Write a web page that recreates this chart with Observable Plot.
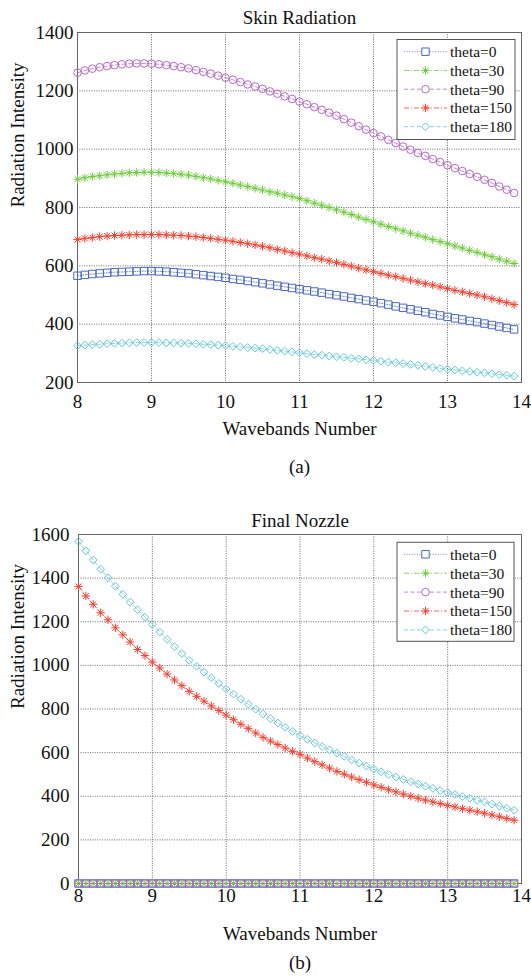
<!DOCTYPE html>
<html><head><meta charset="utf-8">
<script src="https://cdn.jsdelivr.net/npm/d3@7"></script>
<script src="https://cdn.jsdelivr.net/npm/@observablehq/plot@0.6"></script>
<style>
body{margin:0;background:#fff;width:531px;height:976px;overflow:hidden}
#c1,#c2{display:block;line-height:0}
</style>
</head><body><div id="c1"></div><div id="c2"></div>
<script>
// ---------- data ----------
const wavebands = [8.0,8.1,8.2,8.3,8.4,8.5,8.6,8.7,8.8,8.9,9.0,9.1,9.2,9.3,9.4,9.5,9.6,9.7,9.8,9.9,
  10.0,10.1,10.2,10.3,10.4,10.5,10.6,10.7,10.8,10.9,11.0,11.1,11.2,11.3,11.4,11.5,11.6,11.7,11.8,11.9,
  12.0,12.1,12.2,12.3,12.4,12.5,12.6,12.7,12.8,12.9,13.0,13.1,13.2,13.3,13.4,13.5,13.6,13.7,13.8,13.9];
const xTicks = [8,9,10,11,12,13,14];
const yTicksSkin = [200,400,600,800,1000,1200,1400];
const yTicksNozzle = [0,200,400,600,800,1000,1200,1400,1600];
const seriesNames = ["theta=0","theta=30","theta=90","theta=150","theta=180"];

// Skin Radiation
const skin0 = [566,569,572,574,576,578,579,580,581,582,582,581,580,578,576,574,571,568,565,562,
  559,555,552,548,544,540,536,532,528,524,520,516,512,508,503,499,495,490,486,481,
  477,472,467,461,456,451,446,441,435,430,425,420,416,411,407,402,397,392,387,382];
const skin30 = [897,902,906,909,912,915,917,919,920,921,921,920,918,916,914,911,907,902,898,893,
  888,883,877,872,866,860,854,849,843,837,831,823,815,808,800,792,784,776,767,759,
  751,743,735,727,720,712,705,698,690,683,676,668,661,653,646,638,631,623,616,608];
const skin90 = [1262,1270,1276,1281,1285,1288,1291,1293,1294,1294,1293,1291,1288,1285,1281,1277,1271,1265,1259,1252,
  1245,1238,1230,1222,1215,1207,1198,1190,1181,1172,1163,1154,1144,1135,1125,1115,1103,1091,1079,1067,
  1055,1044,1032,1021,1009,998,987,977,966,956,945,935,925,915,905,895,884,872,861,850];
const skin150 = [690,694,697,700,702,704,705,706,707,707,707,707,706,705,704,702,700,697,694,691,
  688,684,680,676,672,667,662,656,651,645,640,634,628,623,617,611,605,599,592,586,
  580,574,568,563,557,551,545,539,534,528,522,516,511,505,500,494,487,481,474,467];
const skin180 = [326,328,330,331,333,334,335,336,337,337,337,337,336,336,335,334,333,331,330,328,
  326,324,322,320,318,316,313,310,308,305,302,299,296,294,291,288,286,283,281,278,
  276,273,270,268,265,262,259,255,252,248,245,243,240,238,235,233,230,227,225,222];

// Final Nozzle
const nozzle0 = [0,0,0,0,0,0,0,0,0,0,0,0,0,0,0,0,0,0,0,0,0,0,0,0,0,0,0,0,0,0,
  0,0,0,0,0,0,0,0,0,0,0,0,0,0,0,0,0,0,0,0,0,0,0,0,0,0,0,0,0,0];
const nozzle30 = [0,0,0,0,0,0,0,0,0,0,0,0,0,0,0,0,0,0,0,0,0,0,0,0,0,0,0,0,0,0,
  0,0,0,0,0,0,0,0,0,0,0,0,0,0,0,0,0,0,0,0,0,0,0,0,0,0,0,0,0,0];
const nozzle90 = [0,0,0,0,0,0,0,0,0,0,0,0,0,0,0,0,0,0,0,0,0,0,0,0,0,0,0,0,0,0,
  0,0,0,0,0,0,0,0,0,0,0,0,0,0,0,0,0,0,0,0,0,0,0,0,0,0,0,0,0,0];
const nozzle150 = [1362,1318,1280,1241,1209,1172,1140,1107,1073,1045,1015,988,960,933,907,881,858,836,814,793,
  772,751,730,710,690,670,653,637,621,606,592,575,559,544,529,514,501,488,476,464,
  452,441,430,420,410,400,391,382,374,366,358,351,343,336,329,322,314,306,298,290];
const nozzle180 = [1569,1525,1483,1441,1401,1363,1326,1290,1255,1221,1188,1153,1119,1086,1054,1023,996,969,943,917,
  892,868,845,822,799,777,756,736,716,697,678,661,644,628,613,598,583,567,552,538,
  524,512,500,488,477,466,456,446,436,426,417,408,399,391,382,374,364,355,345,336];

// ---------- styles ----------
const asterisk8 = {
  draw(ctx, size) {
    const r = Math.sqrt(size / Math.PI), d = r * 0.7071;
    ctx.moveTo(-r, 0); ctx.lineTo(r, 0);
    ctx.moveTo(0, -r); ctx.lineTo(0, r);
    ctx.moveTo(-d, -d); ctx.lineTo(d, d);
    ctx.moveTo(-d, d); ctx.lineTo(d, -d);
  }
};
const styles = [
  {color:"#4a68c4", dash:"1,1.6", symbol:"square", d3sym:d3.symbolSquare, r:4.2},
  {color:"#6fcb3c", dash:"5,2,1,2", symbol:asterisk8, d3sym:asterisk8, r:4.2},
  {color:"#b868c8", dash:"4,2.5", symbol:"circle", d3sym:d3.symbolCircle, r:3.8},
  {color:"#fb3f2e", dash:"5,2,1,2", symbol:asterisk8, d3sym:asterisk8, r:4.2},
  {color:"#62c9da", dash:"4,2.5", symbol:"diamond2", d3sym:d3.symbolDiamond2, r:3.5}
];
const FONT = "'Liberation Serif','Times New Roman',Times,serif";
const plainNum = d => String(d);

function makeChart(cfg) {
  const marks = [
    Plot.gridX(xTicks, {stroke:"#333", strokeOpacity:0.9, strokeWidth:0.8, strokeDasharray:"1,1.4"}),
    Plot.gridY(cfg.yTicks, {stroke:"#333", strokeOpacity:0.9, strokeWidth:0.8, strokeDasharray:"1,1.4"}),
    Plot.frame({stroke:"#666", strokeWidth:1}),
    Plot.axisX(xTicks, {tickSize:0, tickPadding:cfg.xPad, tickFormat:plainNum, fontSize:19, fontFamily:FONT, label:null, fill:"#111"}),
    Plot.axisY(cfg.yTicks, {tickSize:0, tickPadding:cfg.yPad, tickFormat:plainNum, fontSize:19, fontFamily:FONT, label:null, fill:"#111"})
  ];
  cfg.series.forEach((vals, k) => {
    const st = styles[k];
    const data = wavebands.map((w, i) => ({x:w, y:vals[i]}));
    marks.push(Plot.line(data, {x:"x", y:"y", stroke:st.color, strokeWidth:0.8, strokeDasharray:st.dash}));
    marks.push(Plot.dot(data, {x:"x", y:"y", symbol:st.symbol, r:st.r, stroke:st.color, strokeWidth:1, fill:"none"}));
  });
  marks.push(
    Plot.text([cfg.title], {frameAnchor:"top", dy:cfg.titleDy, fontSize:19, fontFamily:FONT, fill:"#111", lineAnchor:"middle"}),
    Plot.text(["Wavebands Number"], {frameAnchor:"bottom", dy:cfg.xLabelDy, fontSize:19, fontFamily:FONT, fill:"#111", lineAnchor:"middle"}),
    Plot.text([cfg.caption], {frameAnchor:"bottom", dy:cfg.capDy, fontSize:19, fontFamily:FONT, fill:"#111", lineAnchor:"middle"}),
    Plot.text(["Radiation Intensity"], {frameAnchor:"left", dx:cfg.yLabelDx, rotate:-90, fontSize:19, fontFamily:FONT, fill:"#111", lineAnchor:"middle"})
  );
  const svg = Plot.plot({
    width:531, height:cfg.height,
    marginTop:cfg.mt, marginBottom:cfg.mb, marginLeft:cfg.ml, marginRight:cfg.mr,
    x:{domain:[8,14], label:null},
    y:{domain:cfg.yDomain, label:null},
    style:{fontFamily:FONT, fontSize:"19px", background:"white", color:"#111", overflow:"visible"},
    marks
  });
  // legend
  const L = cfg.legend;
  const g = d3.select(svg).append("g").attr("text-anchor", "start");
  g.append("rect").attr("x", L.x).attr("y", L.y).attr("width", L.w).attr("height", L.h)
    .attr("fill", "white").attr("stroke", "#555").attr("stroke-width", 1);
  seriesNames.forEach((name, k) => {
    const st = styles[k];
    const yy = L.row0 + k * L.step;
    g.append("line").attr("x1", L.x + 7).attr("x2", L.x + 50).attr("y1", yy).attr("y2", yy)
      .attr("stroke", st.color).attr("stroke-width", 0.8).attr("stroke-dasharray", st.dash);
    g.append("path").attr("transform", `translate(${L.x + 28.5},${yy})`)
      .attr("d", d3.symbol().type(st.d3sym).size(Math.PI * st.r * st.r)())
      .attr("fill", "white").attr("stroke", st.color).attr("stroke-width", 1);
    g.append("text").attr("x", L.x + 53).attr("y", yy).attr("dy", "0.35em")
      .attr("text-anchor", "start")
      .attr("font-family", FONT).attr("font-size", 15.5).attr("fill", "#111").text(name);
  });
  return svg;
}

document.getElementById("c1").append(makeChart({
  height:490, mt:32, mb:108, ml:77, mr:10,
  yDomain:[200,1400], yTicks:yTicksSkin,
  series:[skin0, skin30, skin90, skin150, skin180],
  title:"Skin Radiation", caption:"(a)",
  xPad:12, yPad:4, titleDy:-15, xLabelDy:46, capDy:84, yLabelDx:-60,
  legend:{x:397, y:39.5, w:118, h:100, row0:51.7, step:18.75}
}));
document.getElementById("c2").append(makeChart({
  height:486, mt:44, mb:93, ml:78, mr:10,
  yDomain:[0,1600], yTicks:yTicksNozzle,
  series:[nozzle0, nozzle30, nozzle90, nozzle150, nozzle180],
  title:"Final Nozzle", caption:"(b)",
  xPad:5, yPad:9, titleDy:-14, xLabelDy:50, capDy:79, yLabelDx:-61,
  legend:{x:397, y:52.3, w:117, h:99, row0:64.3, step:18.9}
}));
</script>
</body></html>
